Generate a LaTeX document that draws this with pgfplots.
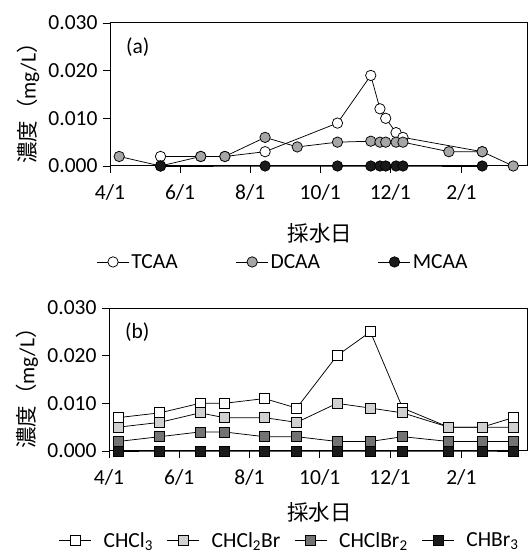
\documentclass[border=0pt]{standalone}
\usepackage{pgfplots}
\pgfplotsset{compat=1.18}
\usepackage{fontspec}
\setmainfont{Carlito}
\newfontfamily\cjk{Noto Sans CJK JP}
\definecolor{gA}{HTML}{A6A6A6}
\definecolor{gL}{HTML}{D0D0D0}
\definecolor{gD}{HTML}{737373}
\definecolor{gK}{HTML}{1A1A1A}
\newcommand\fs{\fontsize{21.5pt}{25pt}\selectfont}
\begin{document}
\begin{tikzpicture}[font=\fs]
\useasboundingbox (0,0) rectangle (529pt,553pt);
\pgfplotsset{
  panel/.style={
    scale only axis, anchor=south west, height=143pt,
    xmin=0, xmax=363, ymin=0, ymax=0.030,
    scaled y ticks=false,
    xtick={0,61,122,183,244,306},
    xticklabels={4/1,6/1,8/1,10/1,12/1,2/1},
    ytick={0,0.01,0.02,0.03},
    yticklabels={0.000,0.010,0.020,0.030},
    tick align=outside, major tick length=7pt, tick pos=left,
    axis line style={line width=1pt},
    tick style={black, line width=0.8pt},
    clip=false,
    tick label style={font=\fs},
    label style={font=\fs},
    xticklabel style={yshift=-8pt},
    yticklabel style={xshift=-2pt},
    ylabel={{\cjk 濃度（}mg/L{\cjk ）}},
    ylabel style={at={(axis description cs:-0.196,0.475)}, anchor=center},
    xlabel={\cjk 採水日},
    legend style={draw=none, fill=none, font=\fs, inner sep=0pt, outer sep=0pt},
    legend cell align=left,
    legend image code/.code={\draw[mark repeat=2,mark phase=2] plot coordinates {(0pt,0pt) (16pt,0pt) (32pt,0pt)};},
  },
  ser/.style={black, line width=0.75pt, mark options={solid, draw=black, line width=0.75pt}},
}
% ---------- (a) ----------
\begin{axis}[panel, at={(110pt,387pt)}, width=417pt,
  xlabel style={at={(axis description cs:0.503,-0.47)}, anchor=center},
  legend style={at={(axis description cs:-0.032,-0.671)}, anchor=west},
  legend columns=3,
  legend style={/tikz/every odd column/.append style={column sep=0pt},
                /tikz/every even column/.append style={column sep=56pt}},
]
\addplot[ser, mark=*, mark size=5.2pt, mark options={fill=white}] coordinates {
 (44,0.002) (79,0.002) (100,0.002) (135,0.003) (198,0.009) (227,0.019)
 (235,0.012) (240,0.010) (249,0.007) (255,0.006) (324,0.003)};
\addlegendentry{TCAA}
\addplot[ser, mark=*, mark size=5.2pt, mark options={fill=gA}] coordinates {
 (8,0.002) (44,0.000) (79,0.002) (100,0.002) (135,0.006) (163,0.004) (198,0.005)
 (227,0.0052) (235,0.005) (240,0.005) (249,0.005) (255,0.005) (295,0.003) (324,0.003) (351,0.000)};
\addlegendentry{DCAA}
\addplot[ser, mark=*, mark size=5.2pt, mark options={fill=gK}] coordinates {
 (44,0) (135,0) (198,0) (227,0) (235,0) (240,0) (249,0) (255,0) (324,0)};
\addlegendentry{MCAA}
\node[anchor=west, font=\fs] at (rel axis cs:0.03,0.83) {(a)};
\end{axis}
% ---------- (b) ----------
\begin{axis}[panel, at={(109pt,102pt)}, width=418pt,
  xlabel style={at={(axis description cs:0.503,-0.427)}, anchor=center},
  legend style={at={(axis description cs:-0.12,-0.625)}, anchor=west},
  legend columns=4,
  legend style={/tikz/every odd column/.append style={column sep=10pt},
                /tikz/every even column/.append style={column sep=12pt}},
]
\addplot[ser, mark=square*, mark size=5pt, mark options={fill=white}] coordinates {
 (8,0.007) (44,0.008) (79,0.010) (100,0.010) (135,0.011) (163,0.009) (198,0.020)
 (227,0.025) (255,0.009) (295,0.005) (324,0.005) (351,0.007)};
\addlegendentry{CHCl\textsubscript{3}}
\addplot[ser, mark=square*, mark size=5pt, mark options={fill=gL}] coordinates {
 (8,0.005) (44,0.006) (79,0.008) (100,0.007) (135,0.007) (163,0.006) (198,0.010)
 (227,0.009) (255,0.008) (295,0.005) (324,0.005) (351,0.005)};
\addlegendentry{CHCl\textsubscript{2}Br}
\addplot[ser, mark=square*, mark size=5pt, mark options={fill=gD}] coordinates {
 (8,0.002) (44,0.003) (79,0.004) (100,0.004) (135,0.003) (163,0.003) (198,0.002)
 (227,0.002) (255,0.003) (295,0.002) (324,0.002) (351,0.002)};
\addlegendentry{CHClBr\textsubscript{2}}
\addplot[ser, mark=square*, mark size=5pt, mark options={fill=gK}] coordinates {
 (8,0) (44,0) (79,0) (100,0) (135,0) (163,0) (198,0)
 (227,0) (255,0) (295,0) (324,0) (351,0)};
\addlegendentry{CHBr\textsubscript{3}}
\node[anchor=west, font=\fs] at (rel axis cs:0.03,0.83) {(b)};
\end{axis}
\end{tikzpicture}
\end{document}
